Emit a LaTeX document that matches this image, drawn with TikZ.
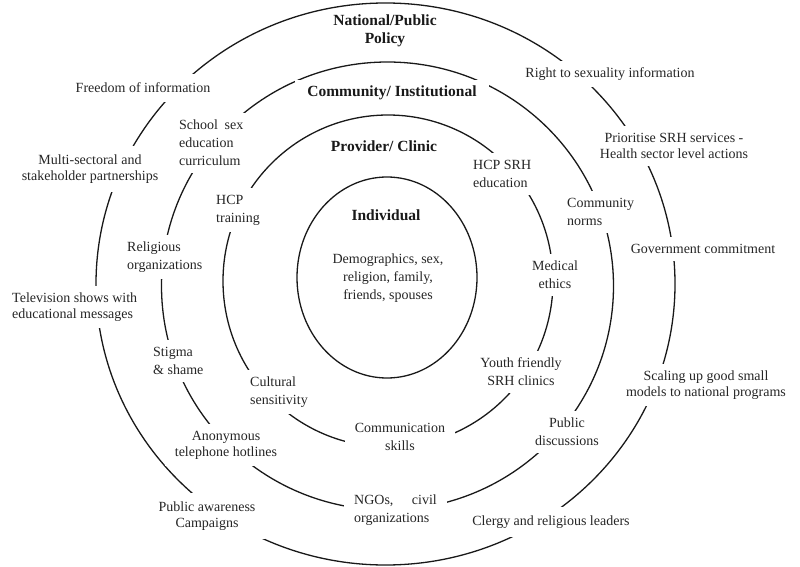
\documentclass[tikz,border=0pt]{standalone}
\usepackage{fontspec}
\setmainfont{Liberation Serif}
\begin{document}
\begin{tikzpicture}[x=1pt,y=-1pt,
  ring/.style={line width=1.3pt, black!90},
  lbl/.style={fill=white, inner xsep=10pt, inner ysep=7pt, text=black!85, font=\fontsize{14}{18}\selectfont, align=center},
  lblt/.style={lbl, font=\fontsize{14}{16}\selectfont},
  head/.style={fill=white, inner sep=4pt, text=black!90, font=\fontsize{15.5}{18}\selectfont\bfseries, align=center}]
\useasboundingbox (0,0) rectangle (800,567);
\fill[white] (0,0) rectangle (800,567);
% rings
\draw[ring] (385.5,284) ellipse [x radius=289.5pt, y radius=281pt];
\draw[ring] (387.5,286) ellipse [x radius=226pt, y radius=224pt];
\draw[ring] (388,281) ellipse [x radius=165pt, y radius=166pt];
\draw[ring] (387,277.5) ellipse [x radius=90pt, y radius=100.5pt];
% headings
\node[head, inner xsep=9pt, inner ysep=5pt] (natl) at (385,31) {National/Public\\Policy};
\node[head, inner xsep=12pt, inner ysep=6pt] (comm) at (392,93) {Community/ Institutional};
\node[head] (prov) at (384,146) {Provider/ Clinic};
\node[head] (indiv) at (386,215) {Individual};
\node[lbl, inner sep=1pt] (demo) at (388,278) {Demographics, sex,\\religion, family,\\friends, spouses};
% left side
\node[lbl, inner ysep=9pt] (freedom) at (143,88) {Freedom of information};
\node[lbl, anchor=west, align=left] (school) at (169,143) {School\hspace{6.5pt}sex\\education\\curriculum};
\node[lblt, inner ysep=9pt] (multi) at (90,169) {Multi-sectoral and\\stakeholder partnerships};
\node[lbl, anchor=west, align=left] (hcp) at (206,210) {HCP\\training};
\node[lbl, anchor=west, align=left] (relig) at (117,257) {Religious\\organizations};
\node[lblt, anchor=west, align=left] (tv) at (2,307) {Television shows with\\educational messages};
\node[lbl, anchor=west, align=left] (stigma) at (143,361) {Stigma\\\& shame};
\node[lbl, anchor=west, align=left] (cultural) at (240,392) {Cultural\\sensitivity};
\node[lblt] (anon) at (226,445) {Anonymous\\telephone hotlines};
\node[lbl] (commskills) at (400,437) {Communication\\skills};
\node[lblt, inner ysep=9pt] (pubaw) at (207,516) {Public awareness\\Campaigns};
\node[lbl, anchor=west, align=left] (ngos) at (344,510) {NGOs,\hspace{18.5pt}civil\\organizations};
% right side
\node[lbl] (right) at (610,74) {Right to sexuality information};
\node[lblt] (prior) at (674,146) {Prioritise SRH services -\\Health sector level actions};
\node[lbl, anchor=west, align=left] (hcpsrh) at (463,174) {HCP SRH\\education};
\node[lbl, anchor=west, align=left] (commnorms) at (557,212) {Community\\norms};
\node[lbl] (govt) at (703,249) {Government commitment};
\node[lbl] (medical) at (555,275) {Medical\\ethics};
\node[lbl] (youth) at (521,372) {Youth friendly\\SRH clinics};
\node[lblt] (scaling) at (706,385) {Scaling up good small\\models to national programs};
\node[lbl] (pubdisc) at (567,432) {Public\\discussions};
\node[lbl, inner ysep=9pt] (clergy) at (551,522) {Clergy and religious leaders};
\end{tikzpicture}
\end{document}
